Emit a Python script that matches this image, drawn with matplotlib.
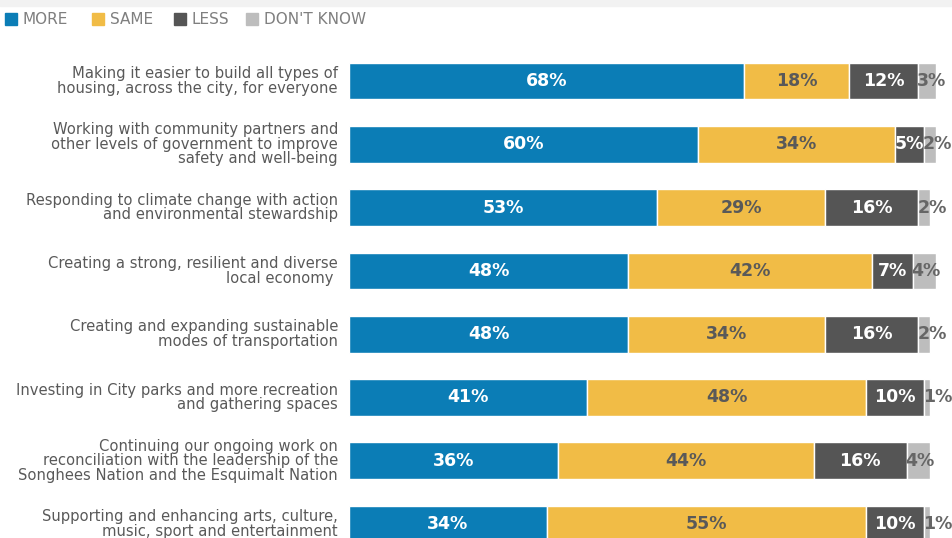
# Barres empilees horizontales : priorites (MORE / SAME / LESS / DON'T KNOW)
import numpy as np
import matplotlib
matplotlib.use("Agg")
import matplotlib.pyplot as plt
from matplotlib.patches import Rectangle

categories = [
    "Making it easier to build all types of\nhousing, across the city, for everyone",
    "Working with community partners and\nother levels of government to improve\nsafety and well-being",
    "Responding to climate change with action\nand environmental stewardship",
    "Creating a strong, resilient and diverse\nlocal economy ",
    "Creating and expanding sustainable\nmodes of transportation",
    "Investing in City parks and more recreation\nand gathering spaces",
    "Continuing our ongoing work on\nreconciliation with the leadership of the\nSonghees Nation and the Esquimalt Nation",
    "Supporting and enhancing arts, culture,\nmusic, sport and entertainment",
]
series = ["MORE", "SAME", "LESS", "DON'T KNOW"]
more = [68, 60, 53, 48, 48, 41, 36, 34]
same = [18, 34, 29, 42, 34, 48, 44, 55]
less = [12, 5, 16, 7, 16, 10, 16, 10]
dont_know = [3, 2, 2, 4, 2, 1, 4, 1]

COULEURS = ["#0b7db6", "#f1bc46", "#555555", "#bdbdbd"]
TEXTE = ["white", "#595959", "white", "#666666"]
GRIS = "#595959"
POLICE = "DejaVu Sans"

W, H = 953, 538
fig = plt.figure(figsize=(W / 100, H / 100), dpi=100)
fig.patches.append(Rectangle((0, 1 - 6 / H), 1, 6 / H, transform=fig.transFigure,
                             color="#f2f2f2", zorder=0))

# axes : 0..100 % entre x=349 px et x=930 px, hauteur totale de la figure
ax = fig.add_axes([349 / W, 0, 581 / W, 1])
pas = 63.3
ax.set_xlim(0, 100)
ax.set_ylim((H - 81) / pas, -81 / pas)
ax.axis("off")

y = np.arange(len(categories))
gauche = np.zeros(len(categories))
for valeurs, coul, txt_coul, nom in zip((more, same, less, dont_know),
                                         COULEURS, TEXTE, series):
    v = np.array(valeurs, float)
    ax.barh(y, v, left=gauche, height=0.58, color=coul, edgecolor="white",
            linewidth=1.0, clip_on=False)
    for i in range(len(v)):
        if nom == "DON'T KNOW":
            ax.text(gauche[i] - 0.2, y[i], f"{valeurs[i]}%", ha="left", va="center",
                    fontsize=12.5, fontweight="bold", color=txt_coul,
                    family=POLICE, clip_on=False)
        else:
            ax.text(gauche[i] + v[i] / 2, y[i], f"{valeurs[i]}%", ha="center",
                    va="center", fontsize=12.5, fontweight="bold", color=txt_coul,
                    family=POLICE, clip_on=False)
    gauche += v

for i, cat in enumerate(categories):
    ax.annotate(cat, (0, y[i]), xytext=(-11 * 0.72, 0), textcoords="offset points",
                ha="right", va="center", fontsize=10.6, color=GRIS, family=POLICE,
                linespacing=0.95, annotation_clip=False)

# legende manuelle en haut a gauche
positions = [5, 92, 174, 246]
for x0, coul, nom in zip(positions, COULEURS, series):
    fig.patches.append(Rectangle((x0 / W, 1 - 25 / H), 12 / W, 12 / H,
                                 transform=fig.transFigure, color=coul))
    fig.text((x0 + 18) / W, 1 - 19.5 / H, nom, ha="left", va="center",
             fontsize=11, color="#7f7f7f", family=POLICE)

fig.savefig("out.png", dpi=100)
